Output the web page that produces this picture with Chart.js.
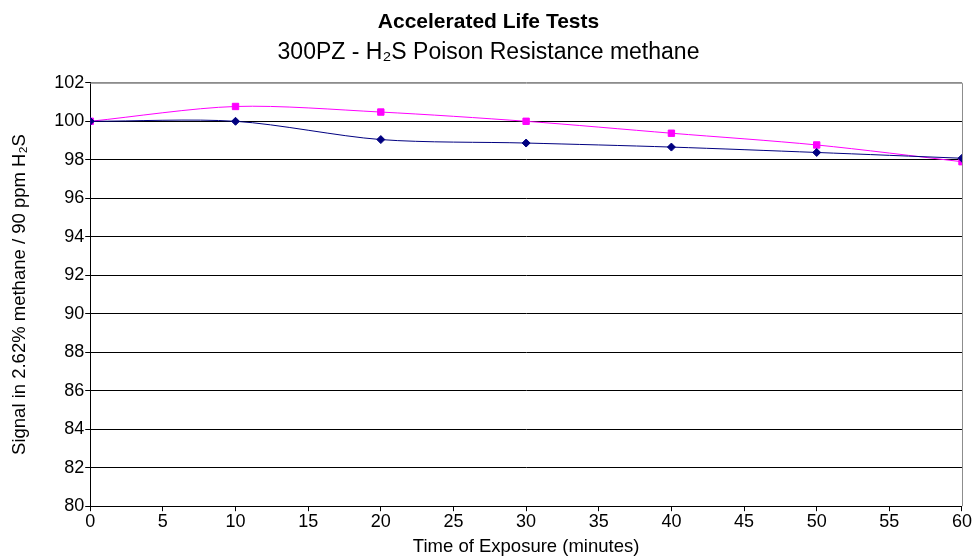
<!DOCTYPE html>
<html lang="en">
<head>
  <meta charset="UTF-8" />
  <title>Accelerated Life Tests</title>
  <script src="https://cdn.jsdelivr.net/npm/chart.js"></script>
  <style>
    * { margin: 0; padding: 0; box-sizing: border-box; }
    body { background: #fff; width: 972px; height: 558px; overflow: hidden; }
  </style>
</head>
<body>
  <canvas id="lifeChart" width="972" height="558"></canvas>

  <script>
    // Data
    const minutes = [0, 10, 20, 30, 40, 50, 60];
    const seriesA = [100, 100, 99.05, 98.87, 98.66, 98.38, 98.08];   // navy diamonds
    const seriesB = [100, 100.77, 100.48, 100, 99.38, 98.77, 97.9];  // magenta squares
    const xTicks = [0, 5, 10, 15, 20, 25, 30, 35, 40, 45, 50, 55, 60];
    const yTicks = [80, 82, 84, 86, 88, 90, 92, 94, 96, 98, 100, 102];

    const font = 'Liberation Sans, Arial, sans-serif';

    // gray frame on top and right of plot area
    const frame = {
      id: 'frame',
      afterDraw(chart) {
        const { ctx, chartArea: a } = chart;
        ctx.save();
        ctx.strokeStyle = '#8c8c8c';
        ctx.lineWidth = 1;
        ctx.beginPath();
        ctx.moveTo(a.left, a.top + 0.5);
        ctx.lineTo(a.right + 0.5, a.top + 0.5);
        ctx.lineTo(a.right + 0.5, a.bottom);
        ctx.stroke();
        ctx.restore();
      }
    };

    new Chart(document.getElementById('lifeChart'), {
      type: 'line',
      data: {
        datasets: [
          {
            label: 'A',
            data: minutes.map((m, i) => ({ x: m, y: seriesA[i] })),
            borderColor: '#000080',
            backgroundColor: '#000080',
            borderWidth: 1,
            pointStyle: 'rectRot',
            pointRadius: 4,
            tension: 0.3
          },
          {
            label: 'B',
            data: minutes.map((m, i) => ({ x: m, y: seriesB[i] })),
            borderColor: '#ff00ff',
            backgroundColor: '#ff00ff',
            borderWidth: 1,
            pointStyle: 'rect',
            pointRadius: 4.5,
            tension: 0.3
          }
        ]
      },
      options: {
        responsive: false,
        animation: false,
        layout: { padding: { top: 10, right: 4, left: 9, bottom: 0 } },
        plugins: {
          legend: { display: false },
          tooltip: { enabled: false },
          title: {
            display: true,
            text: 'Accelerated Life Tests',
            color: '#000',
            font: { family: font, size: 21, weight: 'bold' },
            padding: { top: 0, bottom: 4 }
          },
          subtitle: {
            display: true,
            text: '300PZ - H\u2082S Poison Resistance methane',
            color: '#000',
            font: { family: font, size: 23 },
            padding: { top: 0, bottom: 16 }
          }
        },
        scales: {
          x: {
            type: 'linear',
            min: 0,
            max: 60,
            afterBuildTicks: (s) => { s.ticks = xTicks.map(v => ({ value: v })); },
            ticks: { color: '#000', font: { family: font, size: 18 }, padding: 0 },
            grid: { drawOnChartArea: false, drawTicks: true, tickLength: 5, color: '#000' },
            border: { color: '#000', width: 1 },
            title: {
              display: true,
              text: 'Time of Exposure (minutes)',
              color: '#000',
              font: { family: font, size: 18.5 },
              padding: { top: 3, bottom: 0 }
            }
          },
          y: {
            min: 80,
            max: 102,
            afterBuildTicks: (s) => { s.ticks = yTicks.map(v => ({ value: v })); },
            ticks: { color: '#000', font: { family: font, size: 18 }, padding: 1 },
            grid: {
              color: (c) => c.tick && c.tick.value === 102 ? '#8c8c8c' : '#000',
              tickLength: 5,
              tickColor: '#000'
            },
            border: { color: '#000', width: 1 },
            title: {
              display: true,
              text: 'Signal in 2.62% methane / 90 ppm H\u2082S',
              color: '#000',
              font: { family: font, size: 18.5 },
              padding: { top: 0, bottom: 22 }
            }
          }
        }
      },
      plugins: [frame]
    });
  </script>
</body>
</html>
